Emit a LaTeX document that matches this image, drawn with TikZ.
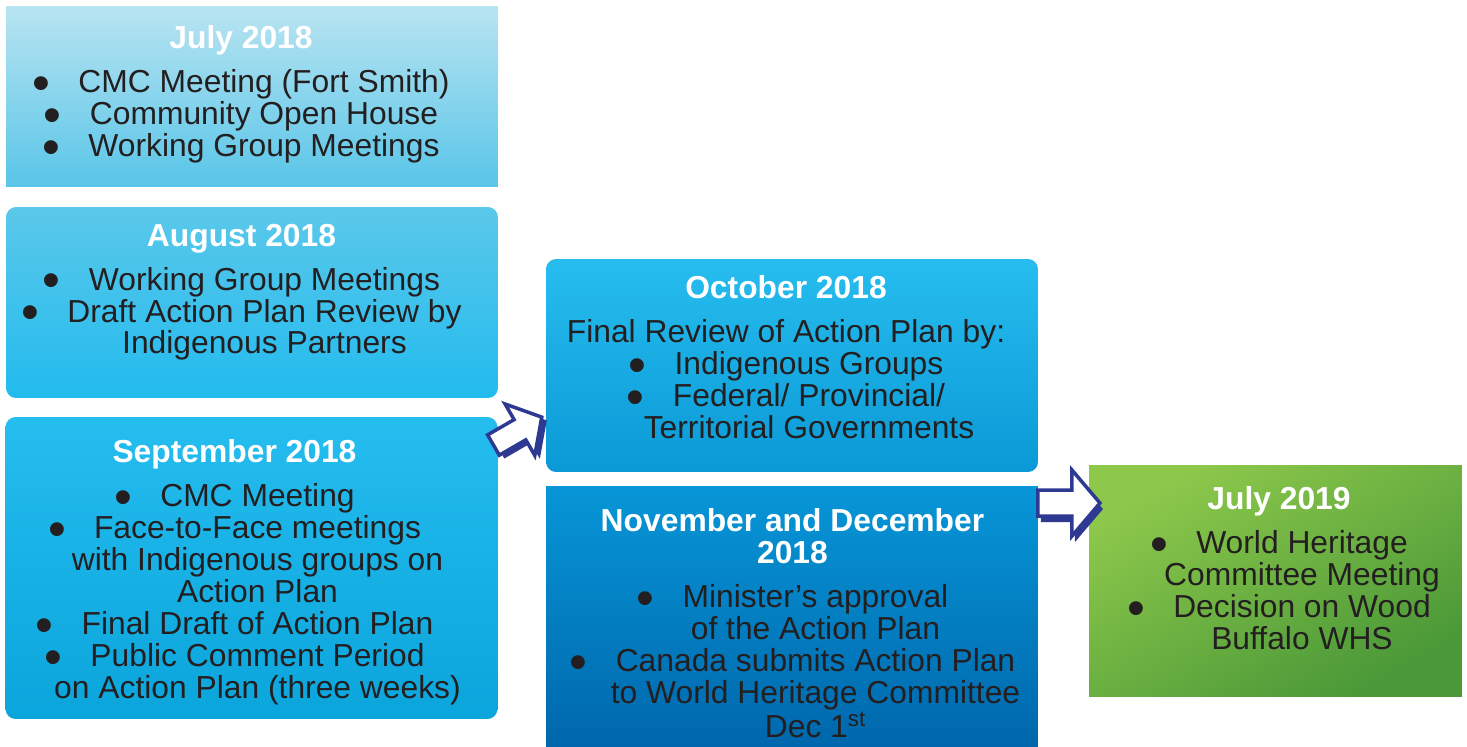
\documentclass[tikz,border=0pt]{standalone}
\usepackage{fontspec}
\setmainfont{Liberation Sans}
\usepackage{graphicx}
\usepackage{xcolor}
\usepackage{tikz}
\usetikzlibrary{calc,positioning}
\definecolor{ink}{HTML}{231F20}
\definecolor{arrowblue}{HTML}{2E3A92}
\definecolor{jultop}{HTML}{B9E4F1}
\definecolor{julbot}{HTML}{58C5E8}
\definecolor{augtop}{HTML}{5BC8EA}
\definecolor{augbot}{HTML}{22BBEE}
\definecolor{septop}{HTML}{26BDEF}
\definecolor{sepmid}{HTML}{22BAED}
\definecolor{sepbot}{HTML}{0AA5DC}
\definecolor{octtop}{HTML}{27BDEF}
\definecolor{octbot}{HTML}{0A99D6}
\definecolor{novtop}{HTML}{0796D7}
\definecolor{novbot}{HTML}{0067AC}
\definecolor{greentop}{HTML}{8DC84B}
\definecolor{greenbot}{HTML}{4A9838}
\newcommand{\bitem}{\makebox[0.92cm][l]{\smash{\raisebox{-0.25em}{\scalebox{1.6}{\textbullet}}}}}
\newcommand{\bcont}{\hspace*{0.92cm}}
\newcommand{\ttl}[1]{{\color{white}\bfseries #1}}
\tikzset{
  card/.style={rectangle, inner sep=0pt, outer sep=0pt, minimum width=9.84cm},
  round/.style={rounded corners=0.2cm},
  txt/.style={anchor=north, inner sep=0pt, align=center, text=ink, font=\fontsize{18.1}{18.2}\selectfont},
  blockarrow/.pic={
    \fill[arrowblue, shift={(3,6)}] (0,-13) -- (34,-13) -- (34,-33) -- (62,0) -- (34,33) -- (34,13) -- (0,13) -- cycle;
    \filldraw[fill=white, draw=arrowblue, line width=2pt, line join=miter] (0,-13) -- (34,-13) -- (34,-33) -- (62,0) -- (34,33) -- (34,13) -- (0,13) -- cycle;
  },
}
\begin{document}
\begin{tikzpicture}[x=0.02cm, y=-0.02cm]
\useasboundingbox (0,0) rectangle (1467,747);

\node[card, minimum height=3.62cm, top color=jultop, bottom color=julbot] (jul18) at (252,96.5) {};
\node[card, round, minimum height=3.82cm, top color=augtop, bottom color=augbot] (aug18) at (252,302.5) {};
\node[card, round, minimum height=6.04cm, top color=septop, middle color=sepmid, bottom color=sepbot] (sep18) at (251.5,568) {};
\node[card, round, minimum height=4.26cm, top color=octtop, bottom color=octbot] (oct18) at (792,365.5) {};
\node[card, minimum height=5.22cm, top color=novtop, bottom color=novbot] (nov18) at (792,616.5) {};
\node[card, minimum width=7.46cm, minimum height=4.64cm, top color=greentop, bottom color=greenbot, shading angle=30] (jul19) at (1275.5,581) {};

\node[txt] (jul18txt) at (241,25) {\ttl{July 2018}\\[0.24cm]
  \bitem CMC Meeting (Fort Smith)\\
  \bitem Community Open House\\
  \bitem Working Group Meetings};
\node[txt] (aug18txt) at (241.5,223.5) {\ttl{August 2018}\\[0.24cm]
  \bitem Working Group Meetings\\
  \bitem Draft Action Plan Review by\\
  \bcont Indigenous Partners};
\node[txt] (sep18txt) at (234.5,439) {\ttl{September 2018}\\[0.24cm]
  \bitem CMC Meeting\\
  \bitem Face-to-Face meetings\\
  \bcont with Indigenous groups on\\
  \bcont Action Plan\\
  \bitem Final Draft of Action Plan\\
  \bitem Public Comment Period\\
  \bcont on Action Plan (three weeks)};
\node[txt] (oct18txt) at (786,275) {\ttl{October 2018}\\[0.24cm]
  Final Review of Action Plan by:\\
  \bitem Indigenous Groups\\
  \bitem Federal/ Provincial/\\
  \bcont Territorial Governments};
\node[txt] (nov18txt) at (792.5,508.5) {\ttl{November and December}\\
  \ttl{2018}\\[0.24cm]
  \bitem Minister’s approval\\
  \bcont of the Action Plan\\
  \bitem Canada submits Action Plan\\
  \bcont to World Heritage Committee\\
  \bcont Dec 1\textsuperscript{st}};
\node[txt] (jul19txt) at (1279,486.5) {\ttl{July 2019}\\[0.24cm]
  \bitem World Heritage\\
  \bcont Committee Meeting\\
  \bitem Decision on Wood\\
  \bcont Buffalo WHS};

\pic[rotate=30, scale=0.9] at ($(sep18.north east)+(-4,28)$) {blockarrow};
\pic at ($(nov18.north east)+(0,17)$) {blockarrow};
\end{tikzpicture}
\end{document}
